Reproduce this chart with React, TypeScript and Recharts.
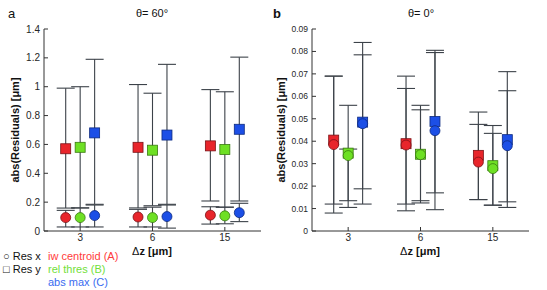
import React from "react";
import {
  ComposedChart,
  Scatter,
  ErrorBar,
  XAxis,
  YAxis,
} from "recharts";

// categories (Δz in µm) and horizontal offsets of the three methods
const groups = ["3", "6", "15"];
const groupPos = [1, 2, 3];
const methodOffset = [-0.2, 0, 0.2]; // A, B, C

// ---- panel a, theta = 60°
const aResXVal = [
  [0.093, 0.097, 0.11], // iw centroid
  [0.093, 0.093, 0.105], // rel thres
  [0.107, 0.1, 0.127], // abs max
];
const aResXLow = [
  [0.028, 0.028, 0.048],
  [0.028, 0.028, 0.05],
  [0.028, 0.02, 0.065],
];
const aResXHigh = [
  [0.143, 0.15, 0.168],
  [0.16, 0.165, 0.165],
  [0.18, 0.18, 0.192],
];
const aResYVal = [
  [0.57, 0.58, 0.59],
  [0.58, 0.56, 0.565],
  [0.68, 0.665, 0.705],
];
const aResYLow = [
  [0.159, 0.16, 0.208],
  [0.16, 0.175, 0.165],
  [0.185, 0.185, 0.208],
];
const aResYHigh = [
  [0.99, 1.015, 0.98],
  [1.0, 0.955, 0.965],
  [1.19, 1.155, 1.205],
];
const aTicks = [0, 0.2, 0.4, 0.6, 0.8, 1, 1.2, 1.4];

// ---- panel b, theta = 0°
const bResXVal = [
  [0.0385, 0.0383, 0.0307],
  [0.0336, 0.034, 0.0278],
  [0.0478, 0.0447, 0.038],
];
const bResXLow = [
  [0.008, 0.009, 0.014],
  [0.0105, 0.0125, 0.0115],
  [0.012, 0.0095, 0.0105],
];
const bResXHigh = [
  [0.069, 0.0635, 0.0475],
  [0.0365, 0.054, 0.0435],
  [0.0785, 0.0795, 0.0625],
];
const bResYVal = [
  [0.0405, 0.0389, 0.0337],
  [0.0347, 0.0342, 0.0291],
  [0.0485, 0.0488, 0.0407],
];
const bResYLow = [
  [0.012, 0.012, 0.014],
  [0.0135, 0.0135, 0.0115],
  [0.0188, 0.017, 0.013],
];
const bResYHigh = [
  [0.069, 0.069, 0.053],
  [0.056, 0.056, 0.047],
  [0.084, 0.0805, 0.071],
];
const bTicks = [0, 0.01, 0.02, 0.03, 0.04, 0.05, 0.06, 0.07, 0.08, 0.09];

const fills = ["#e8252b", "#6ee024", "#1c4fe6"];
const edges = ["#7a1216", "#3a7a12", "#0d2a80"];
const legendColors = ["#ff3b3b", "#72e03a", "#3a6cf0"];
const methods = ["iw centroid (A)", "rel thres (B)", "abs max (C)"];
const barColor = "#3c4249";
const font = "'Liberation Sans', Arial, sans-serif";

type Pt = { x: number; y: number; err: [number, number] };

const buildSeries = (val: number[][], low: number[][], high: number[][]) =>
  val.map((row, m) =>
    row.map((v, g) => ({
      x: groupPos[g] + methodOffset[m],
      y: v,
      err: [v - low[m][g], high[m][g] - v] as [number, number],
    }))
  );

const Circle = (props: any) => {
  const { cx, cy, fill, stroke } = props;
  if (cx == null || cy == null) return <g />;
  return <circle cx={cx} cy={cy} r={5} fill={fill} stroke={stroke} strokeWidth={0.8} />;
};

const Square = (props: any) => {
  const { cx, cy, fill, stroke } = props;
  if (cx == null || cy == null) return <g />;
  return (
    <rect x={cx - 5} y={cy - 5} width={10} height={10} fill={fill} stroke={stroke} strokeWidth={0.8} />
  );
};

const NoShape = () => <g />;

const Panel = ({
  width,
  marginLeft,
  marginRight,
  ticks,
  max,
  tickFont,
  resX,
  resY,
}: {
  width: number;
  marginLeft: number;
  marginRight: number;
  ticks: number[];
  max: number;
  tickFont: number;
  resX: Pt[][];
  resY: Pt[][];
}) => {
  const allBars = [...resX.flat(), ...resY.flat()];
  const tickStyle = { fontSize: tickFont, fill: "#262626", fontFamily: font };
  return (
    <ComposedChart
      width={width}
      height={290}
      margin={{ top: 29, right: marginRight, bottom: 39, left: 0 }}
    >
      <XAxis
        xAxisId={0}
        type="number"
        dataKey="x"
        domain={[0.5, 3.5]}
        ticks={groupPos}
        tickFormatter={(v: number) => groups[groupPos.indexOf(v)] ?? ""}
        tickSize={-4}
        tickMargin={7}
        height={20}
        stroke="#333"
        tick={{ ...tickStyle, fontSize: 10 }}
        allowDataOverflow
      />
      <XAxis
        xAxisId="top"
        orientation="top"
        type="number"
        domain={[0.5, 3.5]}
        ticks={groupPos}
        tick={false}
        tickSize={-4}
        height={0}
        stroke="#333"
      />
      <YAxis
        yAxisId={0}
        type="number"
        dataKey="y"
        domain={[0, max]}
        ticks={ticks}
        tickSize={-4}
        tickMargin={8}
        width={marginLeft}
        stroke="#333"
        tick={tickStyle}
        allowDataOverflow
      />
      <YAxis
        yAxisId="right"
        orientation="right"
        type="number"
        domain={[0, max]}
        ticks={ticks}
        tick={false}
        tickSize={-4}
        width={0}
        stroke="#333"
      />
      <Scatter data={allBars} shape={NoShape} isAnimationActive={false}>
        <ErrorBar dataKey="err" direction="y" width={9} stroke={barColor} strokeWidth={1.1} />
      </Scatter>
      {resY.map((pts, m) => (
        <Scatter
          key={"y" + m}
          data={pts}
          fill={fills[m]}
          stroke={edges[m]}
          shape={Square}
          isAnimationActive={false}
        />
      ))}
      {resX.map((pts, m) => (
        <Scatter
          key={"x" + m}
          data={pts}
          fill={fills[m]}
          stroke={edges[m]}
          shape={Circle}
          isAnimationActive={false}
        />
      ))}
    </ComposedChart>
  );
};

const abs = (style: React.CSSProperties): React.CSSProperties => ({
  position: "absolute",
  fontFamily: font,
  color: "#111",
  whiteSpace: "nowrap",
  lineHeight: 1,
  ...style,
});

const YLabel = ({ cx }: { cx: number }) => (
  <div
    style={abs({
      left: cx,
      top: 130,
      fontSize: 11,
      fontWeight: "bold",
      transform: "translate(-50%, -50%) rotate(-90deg)",
    })}
  >
    abs(Residuals) [μm]
  </div>
);

const XLabel = ({ cx }: { cx: number }) => (
  <div style={abs({ left: cx, top: 246, fontSize: 11, transform: "translateX(-50%)" })}>
    Δ<b>z [μm]</b>
  </div>
);

export default function App() {
  const aX = buildSeries(aResXVal, aResXLow, aResXHigh);
  const aY = buildSeries(aResYVal, aResYLow, aResYHigh);
  const bX = buildSeries(bResXVal, bResXLow, bResXHigh);
  const bY = buildSeries(bResYVal, bResYLow, bResYHigh);

  return (
    <div
      style={{
        position: "fixed",
        left: 0,
        top: 0,
        width: 547,
        height: 290,
        background: "#fff",
        overflow: "hidden",
      }}
    >
      <div style={{ position: "absolute", left: 0, top: 0 }}>
        <Panel width={270} marginLeft={44} marginRight={9} ticks={aTicks} max={1.4} tickFont={10} resX={aX} resY={aY} />
      </div>
      <div style={{ position: "absolute", left: 270, top: 0 }}>
        <Panel width={277} marginLeft={42} marginRight={18} ticks={bTicks} max={0.09} tickFont={8.5} resX={bX} resY={bY} />
      </div>

      <div style={abs({ left: 8, top: 7, fontSize: 13 })}>a</div>
      <div style={abs({ left: 273, top: 7, fontSize: 13, fontWeight: "bold" })}>b</div>
      <div style={abs({ left: 152, top: 8, fontSize: 11, transform: "translateX(-50%)" })}>θ= 60°</div>
      <div style={abs({ left: 421, top: 8, fontSize: 11, transform: "translateX(-50%)" })}>θ= 0°</div>

      <YLabel cx={15} />
      <YLabel cx={281} />
      <XLabel cx={152} />
      <XLabel cx={420} />

      <div style={abs({ left: 3, top: 251, fontSize: 11 })}>○ Res x</div>
      <div style={abs({ left: 3, top: 264, fontSize: 11 })}>□ Res y</div>
      {methods.map((m, i) => (
        <div key={m} style={abs({ left: 48, top: 251 + i * 13, fontSize: 11, color: legendColors[i] })}>
          {m}
        </div>
      ))}
    </div>
  );
}
